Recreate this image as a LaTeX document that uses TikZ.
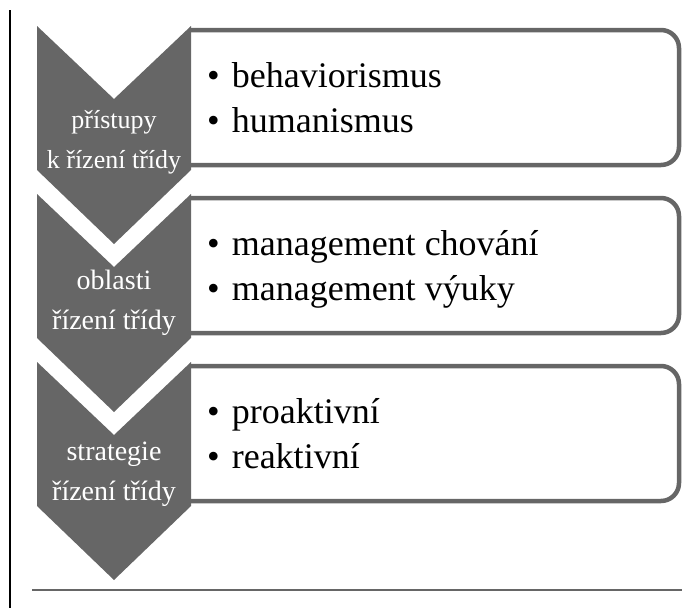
\documentclass[tikz,border=0pt]{standalone}
\usepackage{fontspec}
\setmainfont{Liberation Serif}
\definecolor{sg}{HTML}{666666}
\begin{document}
\begin{tikzpicture}[x=1pt,y=-1pt,
  chev/.style={fill=sg,draw=none},
  boxline/.style={draw=sg,line width=4.5pt,rounded corners=18pt},
  ctext/.style={text=white,font=\fontsize{26}{30}\selectfont,inner sep=0pt,anchor=base},
  ctextb/.style={ctext,font=\fontsize{28}{32}\selectfont},
  btext/.style={font=\fontsize{36}{42}\selectfont,inner sep=0pt,anchor=base west}]
\useasboundingbox (0,0) rectangle (682,608);
% frame lines
\draw[line width=2pt] (10,10) -- (10,608);
\draw[sg,line width=2pt] (32,590) -- (682,590);
% boxes
\foreach \B in {30,198,366}{
  \draw[boxline] (189,\B) -- (679,\B) -- (679,\B+135) -- (189,\B+135);
}
% chevrons
\foreach \T in {26,194,362}{
  \fill[chev] (37,\T) -- (114,\T+73) -- (191,\T) -- (191,\T+144) -- (114,\T+218) -- (37,\T+144) -- cycle;
}
% chevron texts
\node[ctext] (c1a) at (114,128) {přístupy};
\node[ctext] (c1b) at (114,168) {k řízení třídy};
\node[ctextb] (c2a) at (114,289) {oblasti};
\node[ctextb] (c2b) at (114,329) {řízení třídy};
\node[ctextb] (c3a) at (114,460) {strategie};
\node[ctextb] (c3b) at (114,500) {řízení třídy};
% box texts
\node[btext] (b1a) at (207,87) {•\hspace{12pt}behaviorismus};
\node[btext] (b1b) at (207,132) {•\hspace{12pt}humanismus};
\node[btext] (b2a) at (207,255) {•\hspace{12pt}management chování};
\node[btext] (b2b) at (207,300) {•\hspace{12pt}management výuky};
\node[btext] (b3a) at (207,423) {•\hspace{12pt}proaktivní};
\node[btext] (b3b) at (207,468) {•\hspace{12pt}reaktivní};
\end{tikzpicture}
\end{document}
